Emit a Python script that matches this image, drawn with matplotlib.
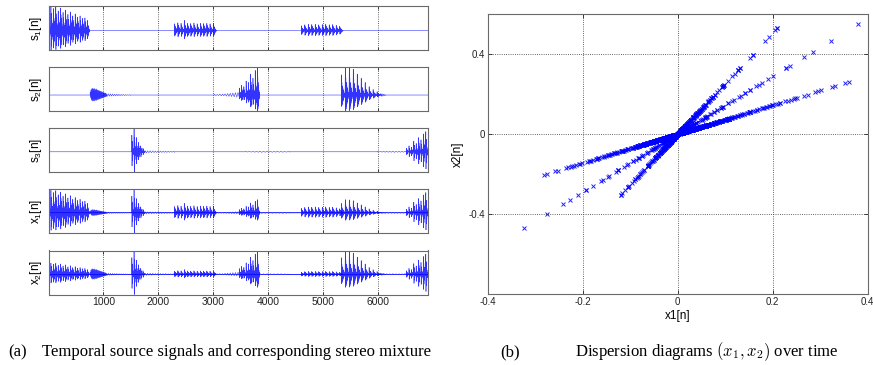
import numpy as np
import matplotlib.pyplot as plt
from matplotlib.ticker import FormatStrFormatter

plt.rcParams['font.family'] = ['Liberation Sans', 'DejaVu Sans']
plt.rcParams['mathtext.fontset'] = 'custom'
plt.rcParams['mathtext.rm'] = 'Liberation Sans'
plt.rcParams['mathtext.it'] = 'Liberation Sans:italic'
plt.rcParams['axes.unicode_minus'] = False

n_end = 6920

# shape of one pulse for each source (peak values, alternating sign)
s1_shape = [1.0, -0.78, 0.7, -0.62, 0.55, -0.48, 0.42, -0.36, 0.3, -0.25,
            0.2, -0.16, 0.12, -0.09, 0.06, -0.04]
s2_shape = [1.0, -0.57, 0.62, -0.5, 0.45, -0.4, 0.35, -0.3, 0.26, -0.22,
            0.18, -0.14, 0.1, -0.07, 0.05, -0.03]
s3_shape = [1.0, -0.85, 0.62, -0.55, 0.4, -0.33, 0.22, -0.17, 0.1, -0.06,
            0.04, -0.02]
ripple = [1.0, -0.9]

# source 1: three harmonic bursts (sample span, pulse heights)
s1_a_span = (0, 750)
s1_a_amp = [0.82, 1.00, 0.90, 0.98, 0.80, 0.92, 0.74, 0.84, 0.66, 0.76,
            0.60, 0.68, 0.55, 0.60, 0.50, 0.52, 0.42]
s1_b_span = (2300, 3060)
s1_b_amp = [0.28, 0.32, 0.30, 0.42, 0.30, 0.29, 0.31, 0.28, 0.30, 0.29,
            0.30, 0.28, 0.30]
s1_c_span = (4610, 5370)
s1_c_amp = [0.20, 0.24, 0.26, 0.25, 0.26, 0.24, 0.25, 0.26, 0.24, 0.25,
            0.22, 0.18]

# source 2
s2_a_span = (760, 1050)
s2_a_amp = [0.10, 0.18, 0.22, 0.24, 0.23, 0.22, 0.24, 0.21, 0.20, 0.22,
            0.19, 0.18, 0.17, 0.16, 0.15, 0.14, 0.13, 0.12, 0.11, 0.10,
            0.09, 0.08, 0.07, 0.06]
s2_tail_span = (1050, 1500)
s2_tail_amp = [0.05, 0.045, 0.04, 0.035, 0.03, 0.03, 0.025, 0.02, 0.02,
               0.015, 0.01, 0.01]
s2_rip_span = (3030, 3480)
s2_rip_amp = [0.02, 0.02, 0.03, 0.03, 0.04, 0.05, 0.06, 0.07, 0.08, 0.09]
s2_b_span = (3480, 3850)
s2_b_amp = [0.25, 0.35, 0.30, 0.50, 0.45, 0.75, 0.60, 0.88, 1.00]
s2_c_span = (5340, 6060)
s2_c_amp = [0.72, 1.00, 0.98, 0.92, 0.75, 0.60, 0.45, 0.30, 0.20, 0.12]
s2_ctail_span = (6060, 6140)
s2_ctail_amp = [0.05, 0.04, 0.03, 0.02]

# source 3
s3_a_span = (1520, 1760)
s3_a_amp = [0.70, 1.00, 0.60, 0.40, 0.25, 0.15]
s3_r1_span = (1760, 2300)
s3_r1_amp = [0.05, 0.04, 0.04, 0.035, 0.03, 0.03, 0.03, 0.025, 0.025,
             0.02, 0.02, 0.02]
s3_r2_span = (3600, 4400)
s3_r2_amp = [0.01, 0.015, 0.02, 0.02, 0.025, 0.02, 0.02, 0.02, 0.015,
             0.02, 0.02, 0.015, 0.01]
s3_r3_span = (6000, 6530)
s3_r3_amp = [0.01, 0.015, 0.02, 0.02, 0.02, 0.025, 0.02, 0.02, 0.02, 0.03]
s3_b_span = (6530, 6920)
s3_b_amp = [0.15, 0.25, 0.20, 0.45, 0.35, 0.60, 0.50, 0.75, 0.85]

# stereo mixing gains (x1, x2) for s1, s2, s3
mix_x1 = [0.36, 0.21, 0.38]
mix_x2 = [0.26, 0.53, 0.55]

ylabels = ['s$_1$[n]', 's$_2$[n]', 's$_3$[n]', 'x$_1$[n]', 'x$_2$[n]']
xticks = [1000, 2000, 3000, 4000, 5000, 6000]


def signal(parts):
    ns, vs = [[0]], [[0]]
    for span, amp, shape in parts:
        v = np.outer(amp, shape).ravel()
        n = np.linspace(span[0], span[1], len(v))
        ns += [[span[0]], n, [span[1]]]
        vs += [[0], v, [0]]
    ns.append([n_end])
    vs.append([0])
    return np.concatenate(ns), np.concatenate(vs)


s1 = signal([(s1_a_span, s1_a_amp, s1_shape),
             (s1_b_span, s1_b_amp, s1_shape),
             (s1_c_span, s1_c_amp, s1_shape)])
s2 = signal([(s2_a_span, s2_a_amp, ripple),
             (s2_tail_span, s2_tail_amp, ripple),
             (s2_rip_span, s2_rip_amp, ripple),
             (s2_b_span, s2_b_amp, s2_shape),
             (s2_c_span, s2_c_amp, s2_shape),
             (s2_ctail_span, s2_ctail_amp, ripple)])
s3 = signal([(s3_a_span, s3_a_amp, s3_shape),
             (s3_r1_span, s3_r1_amp, ripple),
             (s3_r2_span, s3_r2_amp, ripple),
             (s3_r3_span, s3_r3_amp, ripple),
             (s3_b_span, s3_b_amp, s3_shape)])
sources = [s1, s2, s3]

fig = plt.figure(figsize=(8.73, 3.65), dpi=100)
W, H = 873, 365
frame = '#6a6a6a'

panel_tops = [6, 67, 128, 189, 250.5]
panel_h = 44
for k in range(5):
    ax = fig.add_axes([48.5 / W, 1 - (panel_tops[k] + panel_h) / H,
                       379.5 / W, panel_h / H])
    if k < 3:
        lines = [sources[k]]
    else:
        g = mix_x1 if k == 3 else mix_x2
        lines = [(n, gi * v) for (n, v), gi in zip(sources, g)]
    lo, hi = 0, 0
    for n, v in lines:
        ax.plot(n, v, color='blue', lw=0.4, alpha=0.8)
        lo, hi = min(lo, v.min()), max(hi, v.max())
    ax.set_xlim(0, n_end)
    ax.set_ylim(lo, hi)
    ax.set_yticks([])
    ax.set_xticks(xticks)
    ax.tick_params(axis='x', direction='in', length=2, width=0.6,
                   top=True, labelsize=7.5, pad=2, colors='#222222')
    if k < 4:
        ax.set_xticklabels([])
    ax.grid(axis='x', ls=':', color='#333333', lw=0.6)
    for sp in ax.spines.values():
        sp.set_color(frame)
        sp.set_linewidth(0.8)
    ax.set_ylabel(ylabels[k], fontsize=8.5, labelpad=3)

# dispersion diagram
ax = fig.add_axes([487.7 / W, 1 - 294.3 / H, 380 / W, 280.3 / H])
for (n, v), g1, g2 in zip(sources, mix_x1, mix_x2):
    ax.plot(g1 * v, g2 * v, 'x', color='blue', ms=2.4, mew=0.7, alpha=0.85)
ax.set_xlim(-0.4, 0.4)
ax.set_ylim(-0.8, 0.6)
ax.set_xticks([-0.4, -0.2, 0, 0.2, 0.4])
ax.set_yticks([-0.4, 0, 0.4])
ax.xaxis.set_major_formatter(FormatStrFormatter('%g'))
ax.yaxis.set_major_formatter(FormatStrFormatter('%g'))
ax.tick_params(direction='in', length=3, width=0.6, top=True, right=True,
               labelsize=7, pad=2, colors='#222222')
ax.grid(ls=':', color='#333333', lw=0.6)
for sp in ax.spines.values():
    sp.set_color(frame)
    sp.set_linewidth(0.8)
ax.set_xlabel('x1[n]', fontsize=8.5, labelpad=2)
ax.set_ylabel('x2[n]', fontsize=8.5, labelpad=3)

# captions
cap = dict(family=['Liberation Serif', 'DejaVu Serif'], fontsize=12,
           va='center')
fig.text(8 / W, 1 - 352 / H, '(a)', **cap)
fig.text(42 / W, 1 - 352 / H,
         'Temporal source signals and corresponding stereo mixture', **cap)
fig.text(500 / W, 1 - 352 / H, '(b)', **cap)
fig.text(575 / W, 1 - 352 / H, 'Dispersion diagrams $(x_1, x_2)$ over time',
         math_fontfamily='cm', **cap)

fig.savefig('out.png', dpi=100)
